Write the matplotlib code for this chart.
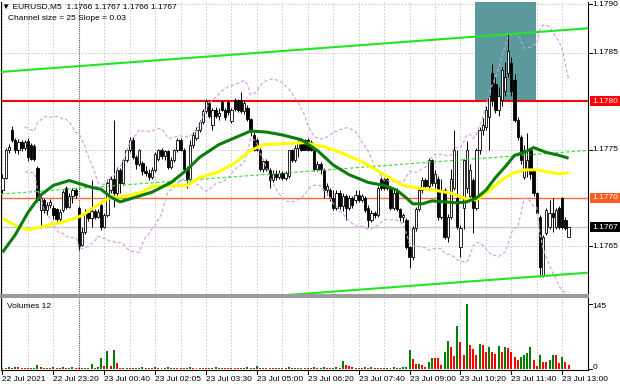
import matplotlib
matplotlib.use("Agg")
import matplotlib.pyplot as plt
import numpy as np
import pandas as pd
from matplotlib.patches import Rectangle

plt.rcParams['font.family'] = ['Liberation Sans', 'DejaVu Sans']

# ---------------- data (EURUSD M5, bar index 0 = 22 Jul 22:00) ----------------
open_ = [1.17708, 1.17721, 1.17749, 1.17770, 1.17760, 1.17750, 1.17758, 1.17752, 1.17759, 1.17755,
         1.17754, 1.17731, 1.17688, 1.17698, 1.17688, 1.17693, 1.17690, 1.17689, 1.17678, 1.17688,
         1.17710, 1.17691, 1.17702, 1.17708, 1.17690, 1.17652, 1.17665, 1.17685, 1.17679, 1.17687,
         1.17680, 1.17693, 1.17670, 1.17682, 1.17708, 1.17720, 1.17705, 1.17729, 1.17715, 1.17739,
         1.17749, 1.17760, 1.17742, 1.17735, 1.17736, 1.17728, 1.17726, 1.17722, 1.17729, 1.17740,
         1.17749, 1.17743, 1.17748, 1.17732, 1.17739, 1.17749, 1.17760, 1.17750, 1.17730, 1.17720,
         1.17755, 1.17762, 1.17770, 1.17778, 1.17790, 1.17798, 1.17775, 1.17791, 1.17785, 1.17799,
         1.17791, 1.17799, 1.17779, 1.17801, 1.17801, 1.17801, 1.17790, 1.17793, 1.17781, 1.17765,
         1.17760, 1.17750, 1.17730, 1.17738, 1.17729, 1.17719, 1.17725, 1.17722, 1.17726, 1.17721,
         1.17723, 1.17749, 1.17739, 1.17752, 1.17760, 1.17760, 1.17760, 1.17758, 1.17750, 1.17730,
         1.17735, 1.17729, 1.17708, 1.17708, 1.17700, 1.17690, 1.17705, 1.17692, 1.17702, 1.17690,
         1.17700, 1.17698, 1.17703, 1.17698, 1.17700, 1.17690, 1.17677, 1.17685, 1.17682, 1.17720,
         1.17720, 1.17720, 1.17710, 1.17690, 1.17708, 1.17689, 1.17680, 1.17677, 1.17649, 1.17639,
         1.17669, 1.17689, 1.17708, 1.17719, 1.17712, 1.17739, 1.17715, 1.17720, 1.17680, 1.17708,
         1.17660, 1.17680, 1.17710, 1.17700, 1.17649, 1.17690, 1.17710, 1.17702, 1.17719, 1.17690,
         1.17749, 1.17770, 1.17773, 1.17784, 1.17829, 1.17818, 1.17791, 1.17801, 1.17810, 1.17829,
         1.17839, 1.17822, 1.17780, 1.17763, 1.17722, 1.17730, 1.17749, 1.17729, 1.17705, 1.17680,
         1.17620, 1.17664, 1.17670, 1.17685, 1.17670, 1.17690, 1.17700, 1.17677, 1.17660]
high = [1.17725, 1.17752, 1.17756, 1.17774, 1.17762, 1.17761, 1.17760, 1.17760, 1.17762, 1.17757,
        1.17756, 1.17733, 1.17702, 1.17700, 1.17696, 1.17699, 1.17693, 1.17690, 1.17689, 1.17708,
        1.17712, 1.17705, 1.17710, 1.17710, 1.17692, 1.17670, 1.17689, 1.17688, 1.17719, 1.17689,
        1.17689, 1.17695, 1.17685, 1.17720, 1.17723, 1.17780, 1.17732, 1.17731, 1.17741, 1.17752,
        1.17763, 1.17763, 1.17744, 1.17751, 1.17738, 1.17733, 1.17730, 1.17732, 1.17747, 1.17751,
        1.17752, 1.17750, 1.17750, 1.17742, 1.17751, 1.17762, 1.17762, 1.17752, 1.17733, 1.17760,
        1.17768, 1.17773, 1.17780, 1.17792, 1.17802, 1.17800, 1.17793, 1.17794, 1.17793, 1.17801,
        1.17793, 1.17801, 1.17793, 1.17803, 1.17802, 1.17809, 1.17801, 1.17796, 1.17783, 1.17768,
        1.17762, 1.17752, 1.17740, 1.17740, 1.17731, 1.17729, 1.17729, 1.17729, 1.17728, 1.17728,
        1.17750, 1.17751, 1.17755, 1.17760, 1.17762, 1.17761, 1.17762, 1.17760, 1.17751, 1.17738,
        1.17737, 1.17731, 1.17715, 1.17710, 1.17708, 1.17708, 1.17708, 1.17705, 1.17704, 1.17703,
        1.17702, 1.17708, 1.17708, 1.17704, 1.17702, 1.17693, 1.17688, 1.17687, 1.17712, 1.17722,
        1.17721, 1.17722, 1.17712, 1.17708, 1.17710, 1.17690, 1.17685, 1.17679, 1.17650, 1.17671,
        1.17691, 1.17710, 1.17722, 1.17721, 1.17741, 1.17740, 1.17729, 1.17723, 1.17720, 1.17710,
        1.17683, 1.17730, 1.17770, 1.17749, 1.17672, 1.17740, 1.17759, 1.17735, 1.17721, 1.17752,
        1.17773, 1.17782, 1.17795, 1.17806, 1.17838, 1.17825, 1.17814, 1.17835, 1.17840, 1.17870,
        1.17845, 1.17828, 1.17784, 1.17765, 1.17755, 1.17767, 1.17752, 1.17730, 1.17706, 1.17682,
        1.17662, 1.17690, 1.17698, 1.17700, 1.17690, 1.17692, 1.17701, 1.17680, 1.17670]
low = [1.17705, 1.17720, 1.17746, 1.17758, 1.17746, 1.17745, 1.17748, 1.17750, 1.17738, 1.17739,
       1.17738, 1.17696, 1.17669, 1.17685, 1.17682, 1.17690, 1.17678, 1.17675, 1.17676, 1.17686,
       1.17689, 1.17690, 1.17695, 1.17700, 1.17646, 1.17650, 1.17663, 1.17676, 1.17670, 1.17678,
       1.17679, 1.17667, 1.17669, 1.17680, 1.17705, 1.17691, 1.17702, 1.17705, 1.17713, 1.17737,
       1.17747, 1.17740, 1.17730, 1.17733, 1.17724, 1.17723, 1.17719, 1.17720, 1.17727, 1.17738,
       1.17740, 1.17739, 1.17730, 1.17730, 1.17737, 1.17747, 1.17748, 1.17728, 1.17710, 1.17718,
       1.17752, 1.17760, 1.17768, 1.17776, 1.17788, 1.17783, 1.17770, 1.17783, 1.17780, 1.17790,
       1.17780, 1.17786, 1.17777, 1.17790, 1.17789, 1.17788, 1.17787, 1.17779, 1.17764, 1.17748,
       1.17748, 1.17728, 1.17727, 1.17728, 1.17710, 1.17717, 1.17719, 1.17720, 1.17719, 1.17719,
       1.17721, 1.17737, 1.17737, 1.17742, 1.17748, 1.17749, 1.17748, 1.17748, 1.17728, 1.17728,
       1.17725, 1.17700, 1.17703, 1.17697, 1.17688, 1.17688, 1.17689, 1.17687, 1.17677, 1.17688,
       1.17690, 1.17695, 1.17696, 1.17696, 1.17686, 1.17670, 1.17675, 1.17679, 1.17680, 1.17708,
       1.17708, 1.17708, 1.17688, 1.17688, 1.17687, 1.17676, 1.17675, 1.17647, 1.17628, 1.17636,
       1.17666, 1.17687, 1.17705, 1.17709, 1.17710, 1.17712, 1.17710, 1.17677, 1.17678, 1.17658,
       1.17655, 1.17678, 1.17708, 1.17668, 1.17639, 1.17668, 1.17705, 1.17698, 1.17664, 1.17688,
       1.17745, 1.17765, 1.17770, 1.17749, 1.17795, 1.17788, 1.17785, 1.17795, 1.17805, 1.17825,
       1.17805, 1.17778, 1.17760, 1.17735, 1.17720, 1.17722, 1.17720, 1.17702, 1.17683, 1.17619,
       1.17619, 1.17662, 1.17668, 1.17665, 1.17668, 1.17668, 1.17668, 1.17667, 1.17660]
close = [1.17721, 1.17749, 1.17753, 1.17760, 1.17750, 1.17758, 1.17752, 1.17758, 1.17742, 1.17740,
         1.17740, 1.17698, 1.17700, 1.17688, 1.17693, 1.17696, 1.17682, 1.17678, 1.17686, 1.17706,
         1.17691, 1.17702, 1.17708, 1.17703, 1.17650, 1.17665, 1.17685, 1.17679, 1.17687, 1.17680,
         1.17686, 1.17670, 1.17682, 1.17715, 1.17720, 1.17705, 1.17729, 1.17715, 1.17739, 1.17749,
         1.17760, 1.17742, 1.17735, 1.17749, 1.17728, 1.17726, 1.17722, 1.17729, 1.17745, 1.17749,
         1.17743, 1.17748, 1.17732, 1.17739, 1.17749, 1.17760, 1.17750, 1.17730, 1.17720, 1.17755,
         1.17765, 1.17770, 1.17778, 1.17790, 1.17800, 1.17785, 1.17791, 1.17785, 1.17788, 1.17791,
         1.17784, 1.17789, 1.17791, 1.17792, 1.17791, 1.17790, 1.17798, 1.17781, 1.17770, 1.17750,
         1.17750, 1.17730, 1.17738, 1.17730, 1.17719, 1.17725, 1.17722, 1.17726, 1.17721, 1.17726,
         1.17749, 1.17739, 1.17752, 1.17758, 1.17750, 1.17750, 1.17750, 1.17750, 1.17730, 1.17735,
         1.17730, 1.17708, 1.17712, 1.17700, 1.17690, 1.17705, 1.17692, 1.17702, 1.17690, 1.17700,
         1.17693, 1.17703, 1.17698, 1.17702, 1.17688, 1.17677, 1.17685, 1.17682, 1.17710, 1.17710,
         1.17710, 1.17710, 1.17690, 1.17705, 1.17689, 1.17680, 1.17682, 1.17649, 1.17639, 1.17669,
         1.17689, 1.17708, 1.17719, 1.17712, 1.17739, 1.17715, 1.17725, 1.17680, 1.17708, 1.17660,
         1.17680, 1.17720, 1.17749, 1.17670, 1.17669, 1.17739, 1.17749, 1.17729, 1.17690, 1.17749,
         1.17770, 1.17775, 1.17791, 1.17805, 1.17801, 1.17791, 1.17805, 1.17832, 1.17825, 1.17852,
         1.17810, 1.17780, 1.17763, 1.17739, 1.17749, 1.17739, 1.17725, 1.17705, 1.17685, 1.17629,
         1.17660, 1.17688, 1.17685, 1.17680, 1.17688, 1.17670, 1.17670, 1.17669, 1.17670]
volume = [3, 2, 4, 3, 4, 4, 3, 2, 3, 2,
          3, 9, 4, 2, 3, 2, 4, 3, 2, 4,
          2, 3, 4, 3, 2, 3, 2, 3, 11, 3,
          4, 24, 6, 40, 6, 43, 14, 3, 2, 3,
          2, 3, 2, 3, 4, 2, 3, 2, 4, 3,
          2, 3, 5, 2, 3, 2, 2, 3, 2, 4,
          3, 2, 3, 2, 2, 3, 2, 4, 2, 3,
          2, 2, 3, 2, 2, 3, 2, 4, 2, 3,
          6, 3, 2, 3, 2, 2, 3, 2, 3, 2,
          4, 2, 3, 2, 3, 2, 3, 2, 4, 2,
          3, 5, 3, 2, 3, 4, 3, 17, 10, 6,
          4, 2, 3, 2, 5, 3, 5, 2, 3, 2,
          2, 3, 2, 4, 2, 3, 4, 5, 42, 22,
          11, 12, 9, 5, 16, 25, 24, 24, 9, 39,
          63, 49, 29, 96, 61, 31, 145, 54, 45, 31,
          56, 54, 39, 49, 37, 34, 51, 39, 49, 46,
          39, 26, 20, 28, 31, 35, 49, 20, 7, 31,
          16, 15, 20, 31, 31, 13, 28, 16, 9]

# moving averages (bar index, price)
ma_green_bar = [0, 4, 8, 12, 16, 21, 24, 28, 31, 34, 37, 41, 47, 53, 58, 62, 68, 73, 78, 83, 88, 94,
                99, 104, 109, 115, 120, 124, 127, 129, 132, 135, 139, 143, 146, 149, 152, 155, 158,
                161, 164, 167, 171, 175, 178]
ma_green_val = [1.17644, 1.17662, 1.17685, 1.17703, 1.17713, 1.17718, 1.17715, 1.17711, 1.17709,
                1.17701, 1.17696, 1.17700, 1.17706, 1.17716, 1.17729, 1.17742, 1.17755, 1.17762,
                1.17769, 1.17768, 1.17765, 1.17760, 1.17749, 1.17734, 1.17724, 1.17716, 1.17713,
                1.17708, 1.17700, 1.17694, 1.17694, 1.17697, 1.17696, 1.17695, 1.17696, 1.17700,
                1.17708, 1.17721, 1.17732, 1.17744, 1.17747, 1.17752, 1.17747, 1.17744, 1.17741]
ma_yellow_bar = [0, 4, 8, 12, 21, 25, 31, 34, 37, 44, 47, 58, 62, 68, 73, 78, 82, 88, 95, 101, 107,
                 114, 120, 126, 131, 136, 141, 146, 149, 152, 155, 158, 161, 164, 168, 171, 175, 178]
ma_yellow_val = [1.17679, 1.17672, 1.17667, 1.17670, 1.17677, 1.17682, 1.17695, 1.17701, 1.17701,
                 1.17706, 1.17712, 1.17713, 1.17721, 1.17727, 1.17736, 1.17749, 1.17755, 1.17756,
                 1.17757, 1.17753, 1.17746, 1.17736, 1.17724, 1.17713, 1.17710, 1.17708, 1.17705,
                 1.17699, 1.17698, 1.17705, 1.17713, 1.17721, 1.17726, 1.17729, 1.17729, 1.17727,
                 1.17725, 1.17726]

time_label_bars = [0, 16, 32, 48, 64, 80, 96, 112, 128, 144, 160, 176]
time_labels = ["22 Jul 2021", "22 Jul 23:20", "23 Jul 00:40", "23 Jul 02:05", "23 Jul 03:30",
               "23 Jul 05:00", "23 Jul 06:20", "23 Jul 07:40", "23 Jul 09:00", "23 Jul 10:20",
               "23 Jul 11:40", "23 Jul 13:00"]
price_labels = [1.1790, 1.1785, 1.1775, 1.1765]
level_red = 1.1780
level_orange = 1.1770
bid_price = 1.1767
channel_bar = [-0.5, 184.1]
channel_upper = [1.17830, 1.17875]
channel_size = 0.00252
zone_bars = [148.7, 167.8]
zone_prices = [1.1780, 1.1791]
day_separator_bar = 24

# ---------------- figure ----------------
W, H = 620, 388
fig = plt.figure(figsize=(W / 100, H / 100), dpi=100)
fig.patch.set_facecolor('white')

def fx(px):
    return px / W

def fy(py):
    return 1 - py / H

ax = fig.add_axes([fx(1), fy(294), fx(588) - fx(1), fy(2) - fy(294)])
axv = fig.add_axes([fx(1), fy(370), fx(588) - fx(1), fy(298) - fy(370)])

n = len(close)
xs = np.arange(n)
xlim = (-0.47, 184.1)
for a in (ax, axv):
    a.set_xlim(*xlim)
    a.set_xticks([])
    a.set_yticks([])
    a.set_facecolor('white')
    for s in a.spines.values():
        s.set_color('black')
        s.set_linewidth(0.8)
ax.set_ylim(1.176010, 1.179021)
axv.set_ylim(-2, 158)
ax.spines['top'].set_visible(False)
ax.spines['bottom'].set_visible(False)
axv.spines['top'].set_visible(False)

# pane separator
fig.patches.append(Rectangle((0, fy(298)), fx(589), fy(294) - fy(298), transform=fig.transFigure,
                             facecolor='#9c9c9c', edgecolor='none'))

grid_kw = dict(color='#c4c4c4', lw=0.6, linestyle=(0, (2, 2)), zorder=0)
for b in range(0, 185, 8):
    if b == day_separator_bar:
        continue
    ax.axvline(b, **grid_kw)
    axv.axvline(b, **grid_kw)
for p in [1.1765, 1.1770, 1.1775, 1.1780, 1.1785, 1.1790]:
    ax.axhline(p, **grid_kw)
for a in (ax, axv):
    a.axvline(day_separator_bar, color='#505050', lw=0.8, linestyle=(0, (1, 1)), zorder=0.5)

# zone rectangle
ax.add_patch(Rectangle((zone_bars[0], zone_prices[0]), zone_bars[1] - zone_bars[0],
                       zone_prices[1] - zone_prices[0], facecolor='#5b9a9c', edgecolor='none', zorder=1))

# horizontal levels
ax.axhline(bid_price, color='#c8c8c8', lw=1.0, zorder=1.5)
ax.axhline(level_red, color='#ff0000', lw=1.5, zorder=2)
ax.axhline(level_orange, color='#ff6a3a', lw=1.0, zorder=2)

# candles
o = np.array(open_); h = np.array(high); l = np.array(low); c = np.array(close)
ax.vlines(xs, l, h, color='black', lw=0.7, zorder=3)
bull = c >= o
bottoms = np.minimum(o, c)
heights = np.maximum(np.abs(c - o), 0.000012)
ax.bar(xs[bull], heights[bull], bottom=bottoms[bull], width=0.72, facecolor='white',
       edgecolor='black', linewidth=0.6, zorder=3.2)
ax.bar(xs[~bull], heights[~bull], bottom=bottoms[~bull], width=0.72, facecolor='black',
       edgecolor='black', linewidth=0.6, zorder=3.2)

# Bollinger bands (20, 2) from closes
s = pd.Series(close)
mid = s.rolling(20, min_periods=8).mean()
sd = s.rolling(20, min_periods=8).std(ddof=0)
for band in (mid + 2 * sd, mid - 2 * sd):
    ax.plot(xs, band, color='#d49be6', lw=0.8, linestyle=(0, (3, 2)), zorder=4)

# regression channel
up = np.array(channel_upper)
ax.plot(channel_bar, up, color='#22e622', lw=1.5, zorder=4)
ax.plot(channel_bar, up - channel_size, color='#22e622', lw=1.5, zorder=4)
ax.plot(channel_bar, up - channel_size / 2, color='#33dd33', lw=0.8, linestyle=(0, (3, 2)), zorder=4)

# moving averages
ax.plot(ma_yellow_bar, ma_yellow_val, color='#ffff00', lw=2.2, zorder=5, solid_capstyle='butt')
ax.plot(ma_green_bar, ma_green_val, color='#0a7d0a', lw=2.2, zorder=5.1, solid_capstyle='butt')

# volumes
v = np.array(volume)
vcol = ['#008000'] + ['#008000' if v[i] > v[i - 1] else '#ff0000' for i in range(1, n)]
axv.bar(xs, v, width=0.62, color=vcol, zorder=3)

# right price axis labels
fs = 6
ytr = ax.get_yaxis_transform()
for p in price_labels:
    ax.plot([1.0, 1.006], [p, p], color='black', lw=0.7, transform=ytr, clip_on=False)
    ax.text(1.008, p, f"{p:.4f}", transform=ytr, ha='left', va='center', fontsize=fs)
for p, col in [(level_red, '#ff0000'), (level_orange, '#ff5a1f'), (bid_price, '#000000')]:
    ax.text(1.007, p, f"{p:.4f}", transform=ytr, ha='left', va='center', fontsize=fs, color='white',
            bbox=dict(boxstyle='square,pad=0.22', facecolor=col, edgecolor='none'))
vtr = axv.get_yaxis_transform()
for val in (145, 0):
    axv.plot([1.0, 1.006], [val, val], color='black', lw=0.7, transform=vtr, clip_on=False)
    axv.text(1.008, val + (-6 if val else 4), str(val), transform=vtr, ha='left', va='center', fontsize=fs)

# time labels
xtr = axv.get_xaxis_transform()
for b, t in zip(time_label_bars, time_labels):
    axv.plot([b, b], [0, -0.05], color='black', lw=0.7, transform=xtr, clip_on=False)
    axv.text(b, -0.08, t, transform=xtr, ha='left', va='top', fontsize=fs)

# captions
fig.text(fx(2), fy(7), "\u25bc EURUSD,M5  1.1766 1.1767 1.1766 1.1767", fontsize=fs, va='center', ha='left')
fig.text(fx(8), fy(18), "Channel size = 25 Slope = 0.03", fontsize=fs, va='center', ha='left')
axv.text(fx(6) / (fx(588) - fx(1)), 0.88, "Volumes 12", transform=axv.transAxes, fontsize=fs,
         va='center', ha='left')

fig.savefig('out.png', dpi=100, facecolor='white')
